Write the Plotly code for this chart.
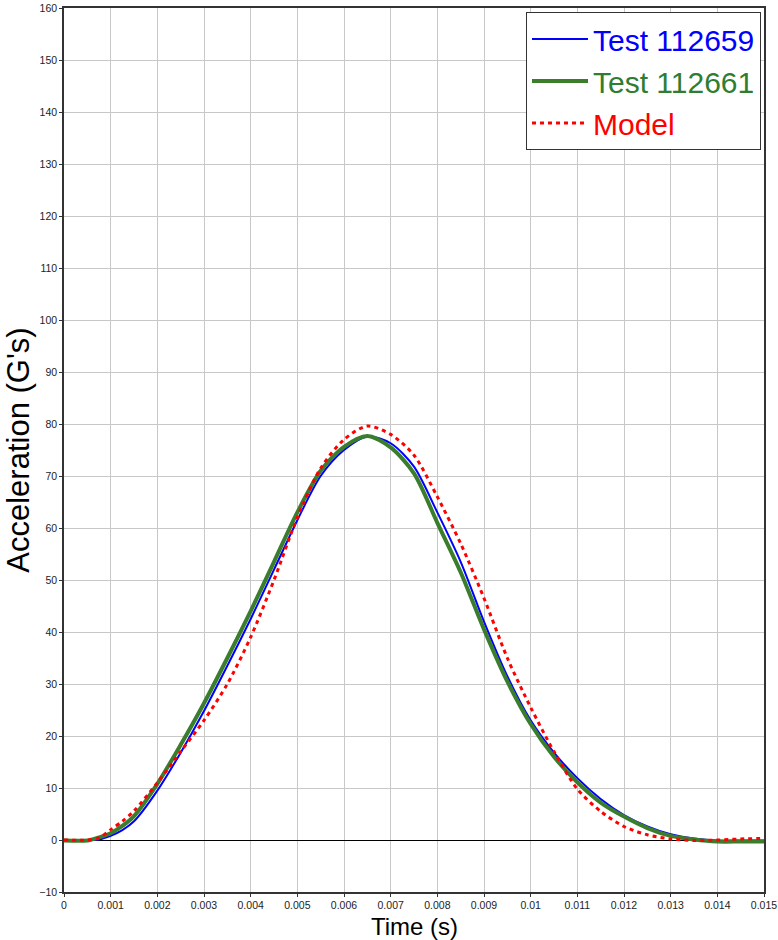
import plotly.graph_objects as go

# Time base (s) shared by all three acceleration traces
time_s = [0, 0.0005, 0.00075, 0.001, 0.00125, 0.0015, 0.002, 0.0025, 0.003, 0.0035,
          0.004, 0.0045, 0.005, 0.0055, 0.006, 0.0065, 0.007, 0.0075, 0.008, 0.0085,
          0.009, 0.0095, 0.01, 0.0105, 0.011, 0.0115, 0.012, 0.0125, 0.013, 0.0135,
          0.014, 0.0145, 0.015]

# Acceleration (G's)
test_112659 = [0, 0, 0.1, 0.8, 1.9, 3.6, 9.5, 16.8, 24.8, 33.5, 42.5, 52, 61.5, 70, 75,
               77.6, 76.3, 71.8, 63, 53.5, 42, 31.5, 23, 16.8, 11.9, 7.9, 4.8, 2.6, 1.1,
               0.3, -0.1, -0.1, -0.1]
test_112661 = [-0.1, -0.1, 0.5, 1.3, 2.7, 4.6, 10.8, 18.3, 26.3, 35, 44, 53.5, 63, 71, 75.6,
               77.7, 75.5, 70.5, 61, 51.5, 40.5, 30.5, 22.3, 16, 11.1, 7.2, 4.5, 2.3, 0.8,
               0.1, -0.3, -0.3, -0.3]
model = [0, 0, 0.4, 2, 3.6, 5.6, 11, 17, 23, 30, 39, 50, 62, 71.5, 77, 79.6, 78, 74, 66,
         57, 46.5, 35, 25.5, 17, 9.8, 5.5, 2.6, 1, 0.2, -0.1, 0, 0.2, 0.3]

x_ticks = [i / 1000 for i in range(16)]
x_tick_text = ["0"] + [f"{v:g}" for v in x_ticks[1:]]
y_ticks = list(range(-10, 161, 10))

fig = go.Figure()
fig.add_trace(go.Scatter(
    x=time_s, y=test_112659, mode="lines",
    name='<span style="color:#0000ff">Test 112659</span>',
    line=dict(color="#0000ff", width=2, shape="spline", smoothing=0.8),
))
fig.add_trace(go.Scatter(
    x=time_s, y=test_112661, mode="lines",
    name='<span style="color:#2e7d32">Test 112661</span>',
    line=dict(color="#3a7d2c", width=4, shape="spline", smoothing=0.8),
))
fig.add_trace(go.Scatter(
    x=time_s, y=model, mode="lines",
    name='<span style="color:#ff0000">Model</span>',
    line=dict(color="#ff0000", width=3, dash="4px,4px", shape="spline", smoothing=0.8),
))

axis_common = dict(
    showgrid=True, gridcolor="#c8c8c8", gridwidth=1,
    showline=True, linecolor="#333333", linewidth=1.5, mirror=True,
    ticks="outside", ticklen=3, tickcolor="#333333",
    automargin=False,
    tickfont=dict(family="Liberation Sans, Arial, sans-serif", size=10.5, color="#222222"),
)

fig.update_layout(
    width=778, height=940,
    margin=dict(l=64, r=14, t=8, b=48),
    paper_bgcolor="white", plot_bgcolor="white",
    showlegend=True,
    legend=dict(
        x=0.9957, y=0.9955, xanchor="right", yanchor="top",
        bgcolor="white", bordercolor="#333333", borderwidth=1,
        font=dict(family="Liberation Sans, Arial, sans-serif", size=30),
        itemwidth=56, tracegroupgap=0,
    ),
    xaxis=dict(
        range=[0, 0.015], tickvals=x_ticks, ticktext=x_tick_text,
        zeroline=False,
        **axis_common,
    ),
    yaxis=dict(
        range=[-10, 160], tickvals=y_ticks,
        zeroline=True, zerolinecolor="black", zerolinewidth=1,
        title=dict(text="Acceleration (G's)", standoff=0,
                   font=dict(family="Liberation Sans, Arial, sans-serif", size=31, color="black")),
        **axis_common,
    ),
    # x-axis title placed as a paper annotation just under the tick labels
    annotations=[dict(
        text="Time (s)", xref="paper", yref="paper",
        x=0.5, y=-0.0385, xanchor="center", yanchor="middle",
        showarrow=False, borderpad=0,
        font=dict(family="Liberation Sans, Arial, sans-serif", size=24, color="black"),
    )],
)

fig.write_html("out.html")
